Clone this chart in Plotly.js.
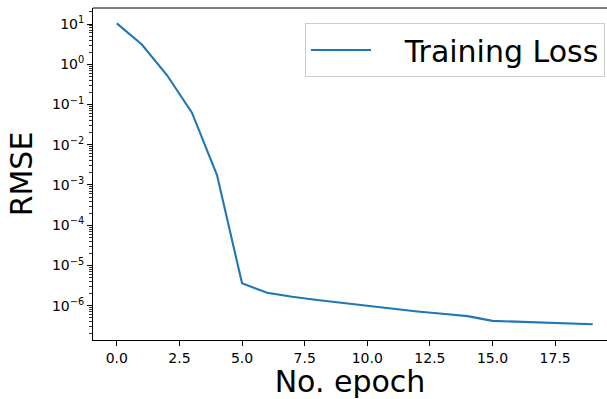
<!DOCTYPE html>
<html>
<head>
<meta charset="utf-8">
<script src="https://cdn.plot.ly/plotly-3.0.1.min.js"></script>
<style>html,body{margin:0;padding:0;background:#fff;}#chart{width:607px;height:399px;}</style>
</head>
<body>
<div id="chart"></div>
<script>
const epochs = [0,1,2,3,4,5,6,7,8,9,10,11,12,13,14,15,16,17,18,19];
const trainingLoss = [10.4, 3.1, 0.54, 0.0625, 0.00177, 3.6e-6, 2.1e-6, 1.67e-6, 1.39e-6, 1.17e-6,
  0.98e-6, 0.84e-6, 0.72e-6, 0.63e-6, 0.55e-6, 0.42e-6, 0.40e-6, 0.38e-6, 0.365e-6, 0.345e-6];
const seriesName = "Training Loss";
const xTickVals = [0, 2.5, 5, 7.5, 10, 12.5, 15, 17.5];
const xTickText = ["0.0", "2.5", "5.0", "7.5", "10.0", "12.5", "15.0", "17.5"];
const yExponents = [-6, -5, -4, -3, -2, -1, 0, 1];

const yTickVals = yExponents.map(e => Math.pow(10, e));
const yTickText = yExponents.map(e => "10<sup>" + (e < 0 ? "\u2212" + (-e) : e) + "</sup>");
const minorVals = [];
for (let e = -7; e <= 1; e++) for (let m = 2; m <= 9; m++) minorVals.push(m * Math.pow(10, e));

const font = "DejaVu Sans, sans-serif";
const trace = {
  x: epochs, y: trainingLoss, type: "scatter", mode: "lines",
  name: "\u00a0\u00a0\u00a0" + seriesName,
  line: {color: "#1f77b4", width: 2.1}
};
const layout = {
  width: 607, height: 399,
  margin: {l: 93, r: 0, t: 8, b: 59},
  paper_bgcolor: "#fff", plot_bgcolor: "#fff",
  font: {family: font, color: "#000", size: 14},
  showlegend: true,
  legend: {
    x: 0.4125, y: 0.955, xanchor: "left", yanchor: "top",
    bgcolor: "rgba(255,255,255,0.8)", bordercolor: "#cccccc", borderwidth: 1,
    font: {family: font, size: 30, color: "#000"}, itemwidth: 60
  },
  xaxis: {
    range: [-0.95, 19.57], showgrid: false, zeroline: false,
    showline: true, linecolor: "#000", linewidth: 1,
    ticks: "outside", ticklen: 5, tickwidth: 1, tickcolor: "#000",
    tickmode: "array", tickvals: xTickVals, ticktext: xTickText,
    tickfont: {family: font, size: 14, color: "#000"},
    title: {text: "No. epoch", font: {family: font, size: 30, color: "#000"}, standoff: 8}
  },
  yaxis: {
    type: "log", range: [-6.852, 1.398], showgrid: false, zeroline: false,
    showline: true, linecolor: "#000", linewidth: 1,
    ticks: "outside", ticklen: 5, tickwidth: 1, tickcolor: "#000",
    tickmode: "array", tickvals: yTickVals, ticktext: yTickText,
    tickfont: {family: font, size: 14, color: "#000"},
    minor: {tickmode: "array", tickvals: minorVals, ticks: "outside", ticklen: 3, tickwidth: 0.8, tickcolor: "#000", showgrid: false},
    title: {text: "RMSE", font: {family: font, size: 30, color: "#000"}, standoff: 10}
  },
  shapes: [{type: "line", xref: "paper", yref: "paper", x0: 0, x1: 1, y0: 1, y1: 1, line: {color: "#000", width: 1}}]
};
Plotly.newPlot("chart", [trace], layout, {displayModeBar: false, staticPlot: true});
</script>
</body>
</html>
